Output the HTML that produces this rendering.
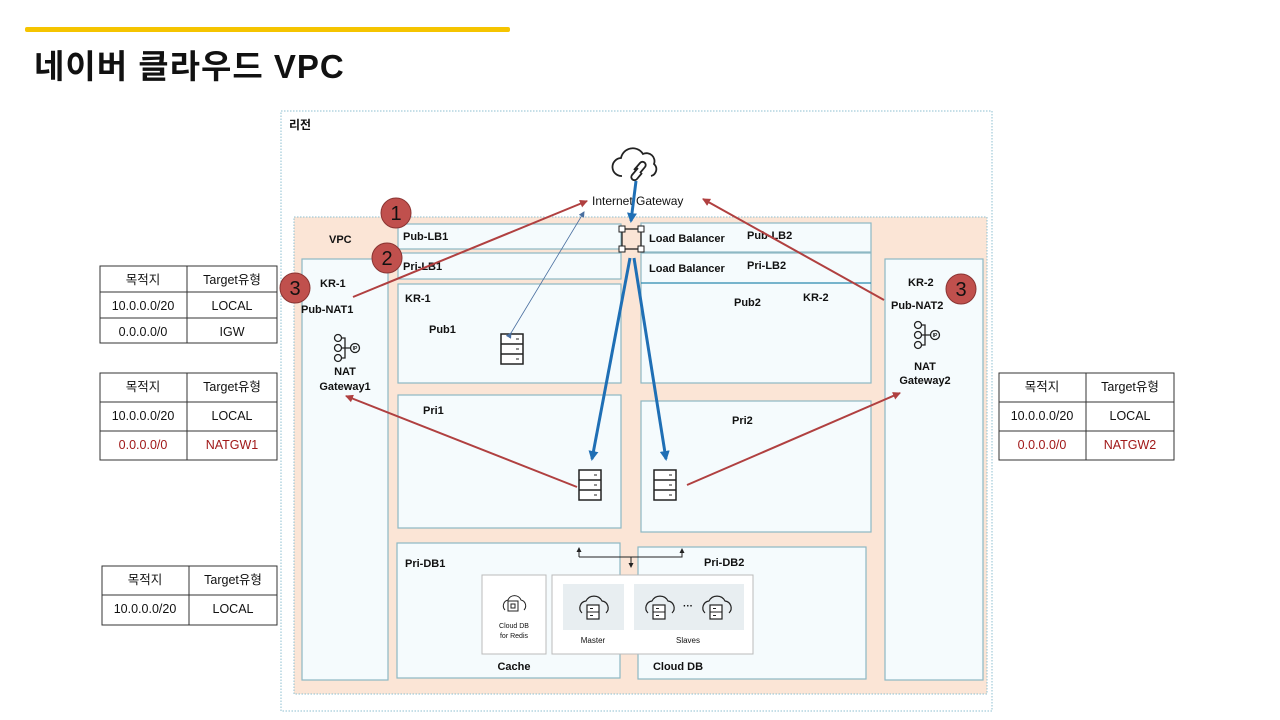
<!DOCTYPE html>
<html><head><meta charset="utf-8"><style>
html,body{margin:0;padding:0;background:#fff}
svg{display:block}
text{font-family:"Liberation Sans","Noto Sans CJK KR",sans-serif;fill:#111}
.b{font-weight:bold;font-size:11px}
.t{font-size:12.5px;text-anchor:middle}
.r{fill:#a01818}
.box{fill:#f5fbfd;stroke:#8db8c4;stroke-width:1.2}
</style></head><body>
<svg width="1280" height="720" viewBox="0 0 1280 720" xmlns="http://www.w3.org/2000/svg">
<defs>
<marker id="ar" markerWidth="8" markerHeight="8" refX="7" refY="4" orient="auto" markerUnits="userSpaceOnUse"><path d="M0,0 L8,4 L0,8z" fill="#b04040"/></marker>
<marker id="ab" markerWidth="10" markerHeight="10" refX="8" refY="5" orient="auto" markerUnits="userSpaceOnUse"><path d="M0,0 L10,5 L0,10z" fill="#1f6fb5"/></marker>
<marker id="at" markerWidth="6" markerHeight="6" refX="5" refY="3" orient="auto" markerUnits="userSpaceOnUse"><path d="M0,0 L6,3 L0,6z" fill="#4a6fa0"/></marker>
<marker id="ak" markerWidth="5" markerHeight="5" refX="4" refY="2.5" orient="auto" markerUnits="userSpaceOnUse"><path d="M0,0 L5,2.5 L0,5z" fill="#222"/></marker>
<g id="srv"><rect x="0" y="0" width="22" height="30" fill="#fff" stroke="#222" stroke-width="1.5"/><line x1="0" y1="10" x2="22" y2="10" stroke="#222" stroke-width="1.5"/><line x1="0" y1="20" x2="22" y2="20" stroke="#222" stroke-width="1.5"/><line x1="15" y1="5" x2="18" y2="5" stroke="#222"/><line x1="15" y1="15" x2="18" y2="15" stroke="#222"/><line x1="15" y1="25" x2="18" y2="25" stroke="#222"/></g>
<g id="nat"><circle cx="4" cy="4" r="3.5" fill="none" stroke="#222" stroke-width="1.3"/><circle cx="4" cy="14" r="3.5" fill="none" stroke="#222" stroke-width="1.3"/><circle cx="4" cy="24" r="3.5" fill="none" stroke="#222" stroke-width="1.3"/><path d="M7.5,4 H11 V24 H7.5 M7.5,14 H17" fill="none" stroke="#222" stroke-width="1.3"/><circle cx="21" cy="14" r="4.5" fill="none" stroke="#222" stroke-width="1.3"/><text x="21" y="16" style="font-size:5px;text-anchor:middle;font-weight:bold">IP</text></g>
<g id="cdb"><path d="M-6,10 a7,7 0 0 1 4,-12 a9,9 0 0 1 16,0 a7,7 0 0 1 4,12" fill="none" stroke="#222" stroke-width="1.2"/><rect x="-1" y="2" width="12" height="14" fill="#fff" stroke="#222" stroke-width="1.2"/><line x1="-1" y1="9" x2="11" y2="9" stroke="#222"/><line x1="2" y1="5.5" x2="5" y2="5.5" stroke="#222"/><line x1="2" y1="12.5" x2="5" y2="12.5" stroke="#222"/></g>
</defs>
<rect x="25" y="27" width="485" height="5" rx="2" fill="#f5c400"/>
<text x="34" y="78" style="font-size:33px;font-weight:bold;letter-spacing:1px">네이버 클라우드 VPC</text>

<rect x="281" y="111" width="711" height="600" fill="#fff" stroke="#8cbfd0" stroke-dasharray="1.5,1.5"/>
<text x="289" y="129" class="b" style="font-size:12px">리전</text>
<rect x="294" y="217" width="693" height="477" fill="#fbe5d6" stroke="#8cbfd0" stroke-dasharray="1.5,1.5"/>
<text x="329" y="243" class="b">VPC</text>

<rect class="box" x="302" y="259" width="86" height="421"/>
<rect class="box" x="398" y="224" width="223" height="25"/>
<rect class="box" x="398" y="253" width="223" height="26"/>
<rect class="box" x="398" y="284" width="223" height="99"/>
<rect class="box" x="398" y="395" width="223" height="133"/>
<rect class="box" x="397" y="543" width="223" height="135"/>
<rect class="box" x="641" y="223" width="230" height="29"/>
<rect class="box" x="641" y="253" width="230" height="130"/>
<line x1="641" y1="283" x2="871" y2="283" stroke="#2a8ab0" stroke-width="1.3"/>
<rect class="box" x="641" y="401" width="230" height="131"/>
<rect class="box" x="638" y="547" width="228" height="132"/>
<rect class="box" x="885" y="259" width="98" height="421"/>

<text x="403" y="240" class="b">Pub-LB1</text>
<text x="403" y="270" class="b">Pri-LB1</text>
<text x="405" y="302" class="b">KR-1</text>
<text x="429" y="333" class="b">Pub1</text>
<text x="423" y="414" class="b">Pri1</text>
<text x="405" y="567" class="b">Pri-DB1</text>
<text x="649" y="242" class="b">Load Balancer</text>
<text x="649" y="272" class="b">Load Balancer</text>
<text x="747" y="239" class="b">Pub-LB2</text>
<text x="747" y="269" class="b">Pri-LB2</text>
<text x="734" y="306" class="b">Pub2</text>
<text x="803" y="301" class="b">KR-2</text>
<text x="732" y="424" class="b">Pri2</text>
<text x="704" y="566" class="b">Pri-DB2</text>
<text x="320" y="287" class="b">KR-1</text>
<text x="301" y="313" class="b">Pub-NAT1</text>
<text x="345" y="375" class="b" text-anchor="middle">NAT</text>
<text x="345" y="390" class="b" text-anchor="middle">Gateway1</text>
<text x="908" y="286" class="b">KR-2</text>
<text x="891" y="309" class="b">Pub-NAT2</text>
<text x="925" y="370" class="b" text-anchor="middle">NAT</text>
<text x="925" y="384" class="b" text-anchor="middle">Gateway2</text>
<use href="#nat" x="334" y="334"/>
<use href="#nat" x="914" y="321"/>

<!-- IGW -->
<path d="M622,176 a9,9 0 0 1 -1,-18 a12,12 0 0 1 22,-4 a8,8 0 0 1 11,10 a7,7 0 0 1 -3,12" fill="none" stroke="#222" stroke-width="1.8"/>
<path d="M634,170 l6,-7 a3,3 0 0 1 5,4 l-5,6 M638,168 l-6,7 a3,3 0 0 0 5,4 l5,-6" fill="none" stroke="#222" stroke-width="1.8"/>
<text x="592" y="205" style="font-size:12px">Internet Gateway</text>
<!-- LB icon -->
<rect x="622" y="229" width="19" height="20" fill="none" stroke="#222" stroke-width="1.3"/>
<rect x="619" y="226" width="6" height="6" fill="#fff" stroke="#222"/><rect x="638" y="226" width="6" height="6" fill="#fff" stroke="#222"/>
<rect x="619" y="246" width="6" height="6" fill="#fff" stroke="#222"/><rect x="638" y="246" width="6" height="6" fill="#fff" stroke="#222"/>

<use href="#srv" x="501" y="334"/>
<use href="#srv" x="579" y="470"/>
<use href="#srv" x="654" y="470"/>

<!-- DB area -->
<rect x="482" y="575" width="64" height="79" fill="#fff" stroke="#bbb"/>
<rect x="552" y="575" width="201" height="79" fill="#fff" stroke="#bbb"/>
<rect x="563" y="584" width="61" height="46" fill="#e8eef1"/>
<rect x="634" y="584" width="110" height="46" fill="#e8eef1"/>
<path d="M505,610 a6,6 0 0 1 3,-10 a7,7 0 0 1 13,0 a6,6 0 0 1 3,10" fill="none" stroke="#222"/>
<rect x="508" y="601" width="10" height="10" fill="#fff" stroke="#222"/><rect x="511" y="604" width="4" height="4" fill="none" stroke="#222"/>
<text x="514" y="628" style="font-size:7px;text-anchor:middle">Cloud DB</text>
<text x="514" y="638" style="font-size:7px;text-anchor:middle">for Redis</text>
<use href="#cdb" x="588" y="603"/>
<use href="#cdb" x="654" y="603"/>
<use href="#cdb" x="711" y="603"/>
<text x="688" y="609" style="font-size:10px;text-anchor:middle;font-weight:bold">···</text>
<text x="593" y="643" style="font-size:8px;text-anchor:middle">Master</text>
<text x="688" y="643" style="font-size:8px;text-anchor:middle">Slaves</text>
<text x="514" y="670" class="b" text-anchor="middle">Cache</text>
<text x="678" y="670" class="b" text-anchor="middle">Cloud DB</text>
<path d="M579,557 H682 V549" fill="none" stroke="#222" marker-end="url(#ak)"/>
<line x1="579" y1="557" x2="579" y2="548" stroke="#222" marker-end="url(#ak)"/>
<line x1="631" y1="557" x2="631" y2="567" stroke="#222" marker-end="url(#ak)"/>

<!-- arrows -->
<line x1="511" y1="333" x2="584" y2="212" stroke="#4a6fa0" stroke-width="0.8" marker-end="url(#at)" marker-start="url(#at)"/>
<line x1="636" y1="181" x2="631" y2="221" stroke="#1f6fb5" stroke-width="3" marker-end="url(#ab)"/>
<line x1="630" y1="258" x2="592" y2="459" stroke="#1f6fb5" stroke-width="3" marker-end="url(#ab)"/>
<line x1="634" y1="258" x2="666" y2="459" stroke="#1f6fb5" stroke-width="3" marker-end="url(#ab)"/>
<line x1="353" y1="297" x2="587" y2="201" stroke="#b04040" stroke-width="2" marker-end="url(#ar)"/>
<line x1="884" y1="300" x2="703" y2="199" stroke="#b04040" stroke-width="2" marker-end="url(#ar)"/>
<line x1="577" y1="487" x2="346" y2="396" stroke="#b04040" stroke-width="2" marker-end="url(#ar)"/>
<line x1="687" y1="485" x2="900" y2="393" stroke="#b04040" stroke-width="2" marker-end="url(#ar)"/>

<!-- circles -->
<g fill="#c0504d" stroke="#8a3432" stroke-width="1">
<circle cx="396" cy="213" r="15"/><circle cx="387" cy="258" r="15"/><circle cx="295" cy="288" r="15"/><circle cx="961" cy="289" r="15"/></g>
<g style="font-size:20px;text-anchor:middle"><text x="396" y="220">1</text><text x="387" y="265">2</text><text x="295" y="295">3</text><text x="961" y="296">3</text></g>

<!-- tables -->
<g fill="#fff" stroke="#333" stroke-width="1">
<rect x="100" y="266" width="177" height="77"/><line x1="100" y1="292" x2="277" y2="292"/><line x1="100" y1="318" x2="277" y2="318"/><line x1="187" y1="266" x2="187" y2="343"/>
<rect x="100" y="373" width="177" height="87"/><line x1="100" y1="402" x2="277" y2="402"/><line x1="100" y1="431" x2="277" y2="431"/><line x1="187" y1="373" x2="187" y2="460"/>
<rect x="102" y="566" width="175" height="59"/><line x1="102" y1="595" x2="277" y2="595"/><line x1="189" y1="566" x2="189" y2="625"/>
<rect x="999" y="373" width="175" height="87"/><line x1="999" y1="402" x2="1174" y2="402"/><line x1="999" y1="431" x2="1174" y2="431"/><line x1="1086" y1="373" x2="1086" y2="460"/>
</g>
<g>
<text class="t" x="143" y="284">목적지</text><text class="t" x="232" y="284">Target유형</text>
<text class="t" x="143" y="310">10.0.0.0/20</text><text class="t" x="232" y="310">LOCAL</text>
<text class="t" x="143" y="336">0.0.0.0/0</text><text class="t" x="232" y="336">IGW</text>
<text class="t" x="143" y="391">목적지</text><text class="t" x="232" y="391">Target유형</text>
<text class="t" x="143" y="420">10.0.0.0/20</text><text class="t" x="232" y="420">LOCAL</text>
<text class="t r" x="143" y="449">0.0.0.0/0</text><text class="t r" x="232" y="449">NATGW1</text>
<text class="t" x="145" y="584">목적지</text><text class="t" x="233" y="584">Target유형</text>
<text class="t" x="145" y="613">10.0.0.0/20</text><text class="t" x="233" y="613">LOCAL</text>
<text class="t" x="1042" y="391">목적지</text><text class="t" x="1130" y="391">Target유형</text>
<text class="t" x="1042" y="420">10.0.0.0/20</text><text class="t" x="1130" y="420">LOCAL</text>
<text class="t r" x="1042" y="449">0.0.0.0/0</text><text class="t r" x="1130" y="449">NATGW2</text>
</g>
</svg>
</body></html>
